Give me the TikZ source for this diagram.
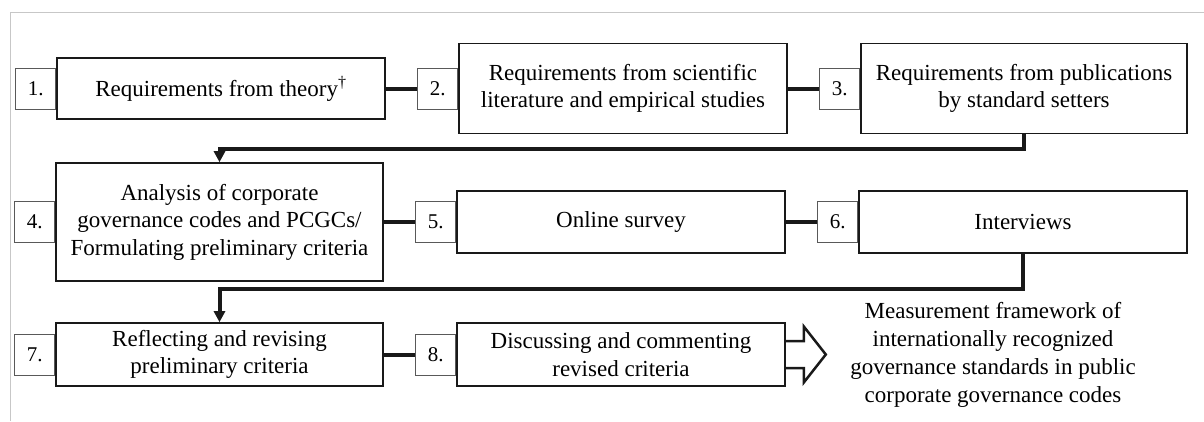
\documentclass[tikz,border=0pt]{standalone}
\usepackage{fontspec}
\setmainfont{Liberation Serif}
\usetikzlibrary{arrows.meta,calc,backgrounds}
\begin{document}
\begin{tikzpicture}[x=1pt,y=1pt,
 mainbox/.style={draw=black!90, fill=white, line width=1.6pt, minimum width=328pt, align=center, inner sep=0pt, font=\fontsize{23}{27.5}\selectfont},
 numbox/.style={draw=black!65, fill=white, line width=0.9pt, minimum width=40pt, minimum height=41pt, inner sep=0pt, anchor=east, font=\fontsize{21}{24}\selectfont},
 link/.style={line width=4pt, draw=black!90},
 flow/.style={line width=4pt, draw=black!90, -{Triangle[length=11pt,width=11pt]}},
 outtext/.style={align=center, font=\fontsize{23}{28}\selectfont}]
\useasboundingbox (0,0) rectangle (1204,-421);
\draw[black!22, line width=1pt] (10,-421) -- (10,-12.5) -- (1204,-12.5);
% main boxes
\node[mainbox, minimum height=61pt] (b1) at (221,-88.5) {Requirements from theory\textsuperscript{†}};
\node[mainbox, minimum height=90pt] (b2) at (623,-88.5) {Requirements from scientific\\literature and empirical studies};
\node[mainbox, minimum height=90pt, minimum width=326pt] (b3) at (1024,-88.5) {Requirements from publications\\by standard setters};
\node[mainbox, minimum height=118pt, minimum width=327pt] (b4) at (219.5,-222) {Analysis of corporate\\governance codes and PCGCs/\\Formulating preliminary criteria};
\node[mainbox, minimum height=62pt] (b5) at (621,-222) {Online survey};
\node[mainbox, minimum height=62pt] (b6) at (1023,-222) {Interviews};
\node[mainbox, minimum height=63pt, minimum width=327pt] (b7) at (219.5,-354.5) {Reflecting and revising\\preliminary criteria};
\node[mainbox, minimum height=63pt] (b8) at (621,-354.5) {Discussing and commenting\\revised criteria};
% number boxes
\begin{scope}[on background layer]
\node[numbox] (n1) at (b1.west) {1.};
\node[numbox] (n2) at (b2.west) {2.};
\node[numbox] (n3) at (b3.west) {3.};
\node[numbox] (n4) at (b4.west) {4.};
\node[numbox] (n5) at (b5.west) {5.};
\node[numbox] (n6) at (b6.west) {6.};
\node[numbox] (n7) at (b7.west) {7.};
\node[numbox] (n8) at (b8.west) {8.};
\end{scope}
% links
\draw[link] (b1.east) -- (n2.west);
\draw[link] (b2.east) -- (n3.west);
\draw[link] (b4.east) -- (n5.west);
\draw[link] (b5.east) -- (n6.west);
\draw[link] (b7.east) -- (n8.west);
% flows between rows
\draw[flow] (b3.south) -- ++(0,-15) -| (b4.north);
\draw[flow] (b6.south) -- ++(0,-35) -| (b7.north);
% block arrow
\draw[line width=2.5pt, black!90, line join=miter] ([yshift=13.5pt]b8.east) -- ++(18,0) -- ++(0,14.5) -- ($(b8.east)+(40,0)$) -- ++(-22,-28) -- ++(0,14.5) -- ([yshift=-13.5pt]b8.east);
\node[outtext] (out) at (993,-355) {Measurement framework of\\internationally recognized\\governance standards in public\\corporate governance codes};
\end{tikzpicture}
\end{document}
